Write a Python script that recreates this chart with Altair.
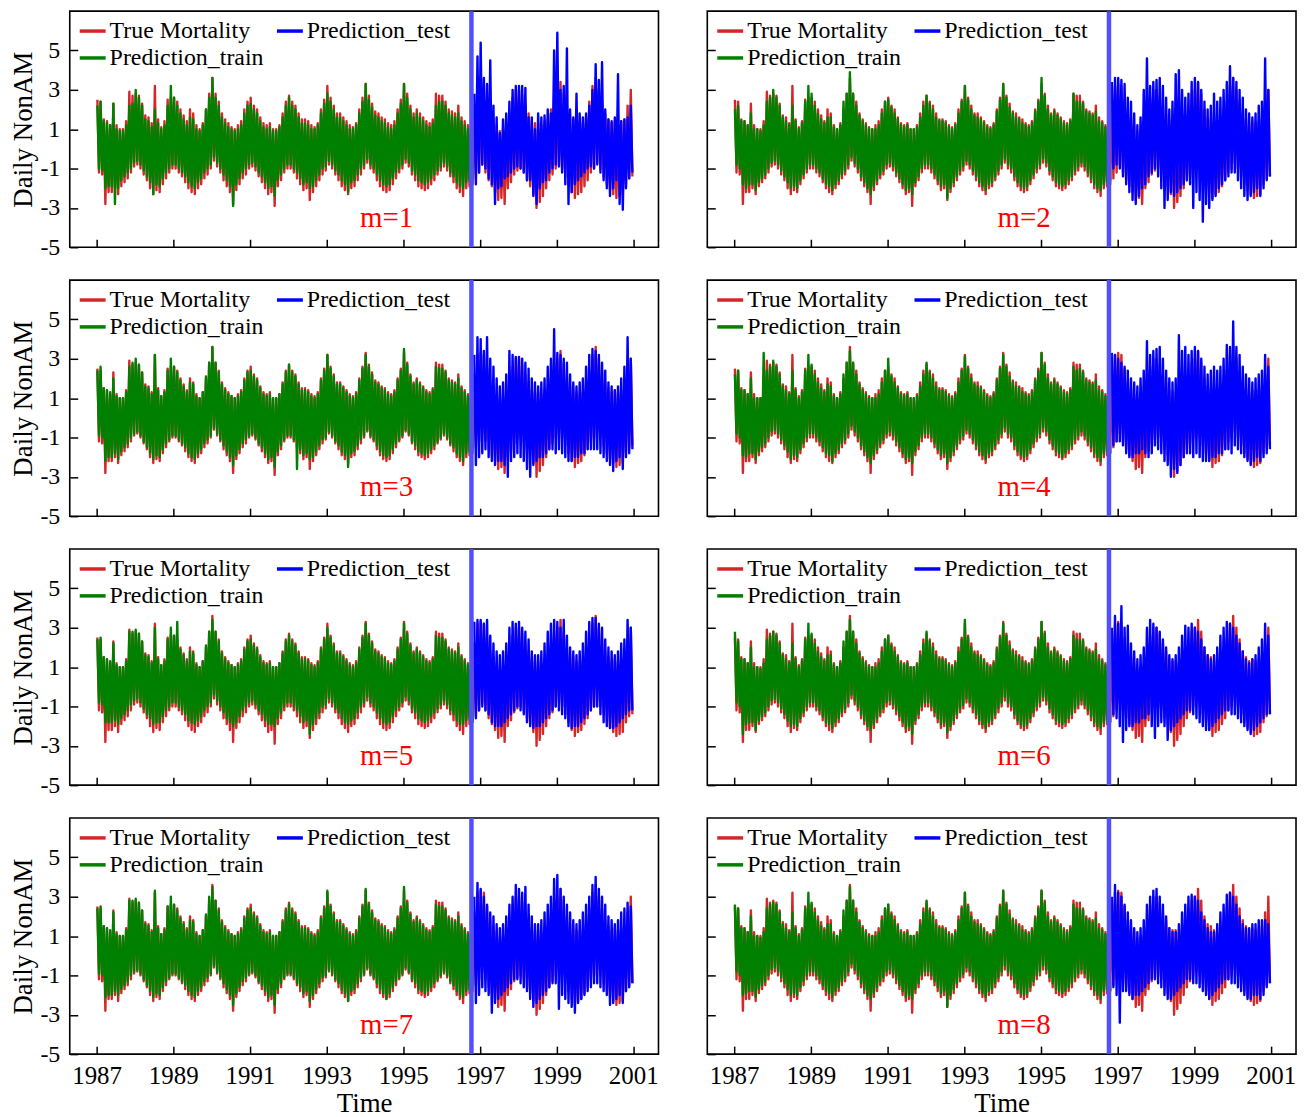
import altair as alt
import pandas as pd

FONT = "Liberation Serif"
START_YEAR = 1987
X_DOMAIN = [1986.3, 2001.66]
Y_DOMAIN = [-5, 7]
X_TICKS = [1987, 1989, 1991, 1993, 1995, 1997, 1999, 2001]
Y_TICKS = [-5, -3, -1, 1, 3, 5]
SPLIT_T = [1996.78]
N_TRAIN = 118
PANEL_LABELS = ["m=1", "m=2", "m=3", "m=4", "m=5", "m=6", "m=7", "m=8"]
LEGEND_LABELS = ["True Mortality", "Prediction_test", "Prediction_train"]
C_TRUE, C_TRAIN, C_TEST, C_SPLIT = "#d62728", "#008000", "#0000ff", "#5050ff"

# ---- True mortality: monthly high / low, Jan 1987 .. Dec 2000 ----
TRUE_HI = [
    2.5, 2.4, 1.5, 1.4, 1.2, 2.3, 1.2, 1.0, 1.0, 1.4, 2.9, 2.7,
    2.8, 2.7, 2.3, 1.7, 1.6, 1.3, 3.2, 1.5, 1.1, 1.4, 2.5, 2.6,
    2.6, 2.4, 2.0, 1.7, 1.4, 2.0, 1.8, 1.2, 1.0, 1.3, 2.0, 2.8,
    3.6, 2.8, 2.4, 1.8, 1.5, 1.3, 1.1, 1.0, 1.2, 1.4, 2.0, 2.4,
    2.6, 2.2, 2.0, 1.6, 1.3, 1.2, 1.3, 1.0, 1.0, 1.2, 1.8, 2.4,
    2.7, 2.4, 2.2, 1.8, 1.5, 1.5, 1.4, 1.2, 1.1, 1.3, 2.0, 2.5,
    3.2, 2.6, 2.2, 1.8, 1.8, 1.6, 1.4, 1.2, 1.1, 1.3, 2.0, 2.6,
    3.3, 2.7, 2.3, 1.9, 1.8, 1.6, 1.5, 1.3, 1.2, 1.4, 2.0, 2.5,
    3.3, 2.8, 2.2, 1.8, 2.0, 1.8, 1.6, 1.4, 1.3, 1.5, 2.8, 2.7,
    2.7, 2.4, 2.0, 1.9, 1.8, 2.2, 1.6, 1.4, 1.2, 1.3, 2.2, 3.2,
    3.3, 3.2, 2.5, 1.8, 1.5, 1.2, 0.9, 1.0, 1.0, 1.4, 2.6, 3.0,
    3.0, 2.7, 2.2, 1.8, 1.4, 1.3, 1.3, 1.2, 1.4, 1.5, 2.0, 2.8,
    3.0, 3.4, 2.8, 2.0, 1.6, 1.5, 1.3, 1.2, 1.3, 1.6, 2.4, 3.2,
    3.6, 3.0, 2.4, 1.8, 1.5, 1.3, 1.4, 1.3, 1.4, 1.5, 2.2, 3.0,
]
TRUE_LO = [
    -1.2, -1.3, -2.8, -2.2, -2.2, -2.0, -2.3, -1.9, -1.7, -1.5, -1.2, -0.9,
    -0.8, -1.0, -1.3, -1.6, -2.0, -2.3, -2.1, -2.2, -1.8, -1.5, -1.2, -1.0,
    -1.0, -1.2, -1.4, -1.7, -2.0, -2.2, -2.3, -2.0, -1.8, -1.5, -1.3, -1.0,
    -0.6, -0.9, -1.2, -1.6, -1.9, -2.2, -2.8, -2.1, -1.8, -1.5, -1.3, -1.0,
    -0.9, -1.1, -1.4, -1.7, -2.0, -2.3, -2.2, -2.9, -1.9, -1.6, -1.2, -1.0,
    -1.0, -1.2, -1.5, -1.8, -2.1, -2.0, -2.6, -2.2, -1.9, -1.6, -1.3, -1.1,
    -0.8, -1.0, -1.3, -1.6, -1.9, -2.1, -2.3, -2.0, -1.9, -1.6, -1.3, -1.0,
    -0.7, -1.0, -1.2, -1.6, -1.9, -2.1, -2.2, -2.1, -1.8, -1.5, -1.2, -1.0,
    -0.7, -0.9, -1.3, -1.6, -1.9, -2.0, -2.1, -2.0, -1.8, -1.6, -1.3, -1.1,
    -0.9, -1.1, -1.4, -1.7, -2.0, -2.2, -2.4, -2.0, -1.9, -1.8, -1.5, -1.2,
    -0.8, -1.2, -1.6, -1.9, -2.2, -2.6, -2.5, -2.8, -2.0, -1.7, -1.3, -1.1,
    -1.0, -1.2, -1.6, -1.9, -2.3, -3.0, -2.7, -2.4, -2.0, -1.6, -1.3, -1.0,
    -0.8, -1.0, -1.4, -1.8, -2.2, -2.5, -2.3, -2.2, -1.9, -1.6, -1.2, -1.0,
    -0.7, -1.0, -1.4, -1.8, -2.1, -2.3, -2.5, -2.4, -2.3, -1.8, -1.5, -1.4,
]

# ---- Prediction_train: monthly high / low, Jan 1987 .. Oct 1996 ----
TRAIN_HI_1 = [
    2.2, 2.4, 1.4, 1.3, 1.2, 2.3, 1.0, 0.9, 0.9, 1.2, 2.2, 2.3,
    3.0, 2.6, 2.2, 1.5, 1.4, 1.1, 2.0, 1.3, 1.0, 1.2, 2.2, 3.2,
    2.6, 2.2, 1.8, 1.5, 1.2, 1.6, 1.5, 1.0, 0.9, 1.2, 2.0, 2.6,
    3.6, 2.6, 2.2, 1.6, 1.3, 1.1, 1.0, 0.9, 1.0, 1.2, 1.8, 2.2,
    2.3, 2.0, 1.8, 1.4, 1.1, 1.0, 1.1, 0.9, 0.9, 1.1, 1.6, 2.2,
    2.6, 2.2, 2.0, 1.6, 1.3, 1.3, 1.2, 1.0, 1.0, 1.2, 1.8, 2.3,
    2.8, 2.4, 2.0, 1.6, 1.6, 1.4, 1.2, 1.0, 1.0, 1.2, 1.8, 2.4,
    3.3, 2.5, 2.1, 1.7, 1.6, 1.4, 1.3, 1.1, 1.0, 1.2, 1.8, 2.3,
    3.3, 2.6, 2.0, 1.6, 1.8, 1.6, 1.4, 1.2, 1.1, 1.3, 2.2, 2.4,
    2.4, 2.2, 1.8, 1.7, 1.6, 1.8, 1.4, 1.2, 1.0, 1.1,
]
TRAIN_LO_1 = [
    -1.0, -1.1, -2.0, -1.9, -1.9, -2.8, -2.0, -1.6, -1.4, -1.2, -1.0, -0.7,
    -0.6, -0.8, -1.1, -1.4, -1.7, -2.3, -1.8, -1.9, -1.5, -1.2, -1.0, -0.8,
    -0.8, -1.0, -1.2, -1.4, -1.7, -1.9, -2.0, -1.7, -1.5, -1.2, -1.0, -0.8,
    -0.4, -0.7, -1.0, -1.3, -1.6, -1.9, -2.9, -1.8, -1.5, -1.2, -1.0, -0.8,
    -0.7, -0.9, -1.2, -1.4, -1.7, -2.0, -1.9, -2.4, -1.6, -1.3, -1.0, -0.8,
    -0.8, -1.0, -1.2, -1.5, -1.8, -1.7, -2.0, -1.9, -1.6, -1.3, -1.0, -0.9,
    -0.6, -0.8, -1.1, -1.3, -1.6, -1.8, -2.2, -1.7, -1.6, -1.3, -1.0, -0.8,
    -0.5, -0.8, -1.0, -1.3, -1.6, -1.8, -1.9, -1.8, -1.5, -1.2, -1.0, -0.8,
    -0.5, -0.7, -1.1, -1.3, -1.6, -1.7, -1.8, -1.7, -1.5, -1.3, -1.1, -0.9,
    -0.7, -0.9, -1.2, -1.4, -1.7, -1.9, -2.0, -1.7, -1.6, -1.5,
]
TRAIN_HI_2 = [
    2.0, 2.2, 1.4, 1.4, 1.2, 1.8, 1.0, 1.0, 0.9, 1.2, 2.4, 2.6,
    3.0, 2.6, 2.2, 1.6, 1.4, 1.2, 2.2, 1.4, 1.0, 1.3, 2.4, 3.2,
    2.8, 2.2, 1.8, 1.5, 1.3, 1.6, 1.6, 1.1, 1.0, 1.2, 2.4, 2.8,
    3.9, 2.8, 2.2, 1.7, 1.4, 1.2, 1.0, 1.0, 1.0, 1.2, 1.8, 2.4,
    2.5, 2.1, 1.8, 1.5, 1.2, 1.1, 1.2, 1.0, 1.0, 1.1, 1.6, 2.2,
    2.7, 2.3, 2.0, 1.6, 1.4, 1.4, 1.3, 1.1, 1.0, 1.2, 1.8, 2.4,
    3.2, 2.5, 2.0, 1.7, 1.6, 1.5, 1.3, 1.1, 1.0, 1.2, 1.9, 2.5,
    3.3, 2.6, 2.1, 1.8, 1.6, 1.5, 1.3, 1.2, 1.1, 1.3, 1.9, 2.4,
    3.6, 2.7, 2.0, 1.7, 1.9, 1.7, 1.5, 1.3, 1.2, 1.4, 2.8, 2.4,
    2.4, 2.3, 1.9, 1.8, 1.7, 1.9, 1.4, 1.3, 1.1, 1.2,
]
TRAIN_LO_2 = [
    -0.8, -1.0, -1.8, -2.0, -1.8, -1.8, -2.1, -1.7, -1.5, -1.3, -1.0, -0.7,
    -0.6, -0.8, -1.1, -1.4, -1.7, -2.0, -1.9, -2.0, -1.6, -1.3, -1.0, -0.8,
    -0.8, -1.0, -1.2, -1.5, -1.8, -1.9, -2.1, -1.8, -1.6, -1.3, -1.1, -0.8,
    -0.4, -0.7, -1.0, -1.4, -1.7, -2.0, -2.3, -1.9, -1.6, -1.3, -1.1, -0.8,
    -0.7, -0.9, -1.2, -1.5, -1.8, -2.1, -2.0, -2.3, -1.7, -1.4, -1.0, -0.8,
    -0.8, -1.0, -1.3, -1.6, -1.9, -1.8, -2.5, -2.0, -1.7, -1.4, -1.1, -0.9,
    -0.6, -0.8, -1.1, -1.4, -1.7, -1.9, -2.1, -1.8, -1.7, -1.4, -1.1, -0.8,
    -0.5, -0.8, -1.0, -1.4, -1.7, -1.9, -2.0, -1.9, -1.6, -1.3, -1.0, -0.8,
    -0.5, -0.7, -1.1, -1.4, -1.7, -1.8, -1.9, -1.8, -1.6, -1.4, -1.1, -0.9,
    -0.7, -0.9, -1.2, -1.5, -1.8, -2.0, -2.1, -1.8, -1.7, -1.6,
]
TRAIN_HI_3 = [
    2.4, 2.6, 1.5, 1.4, 1.3, 2.0, 1.1, 1.0, 1.0, 1.3, 2.6, 2.8,
    3.0, 2.7, 2.3, 1.6, 1.5, 1.2, 3.2, 1.4, 1.1, 1.3, 2.4, 3.0,
    2.6, 2.3, 1.9, 1.6, 1.3, 1.8, 1.7, 1.1, 1.0, 1.3, 2.1, 2.8,
    3.6, 2.8, 2.3, 1.7, 1.4, 1.2, 1.1, 1.0, 1.1, 1.3, 1.9, 2.3,
    2.4, 2.1, 1.9, 1.5, 1.2, 1.1, 1.2, 1.0, 1.0, 1.2, 1.7, 2.3,
    2.7, 2.3, 2.1, 1.7, 1.4, 1.4, 1.3, 1.1, 1.0, 1.2, 1.9, 2.4,
    3.2, 2.5, 2.1, 1.7, 1.7, 1.5, 1.3, 1.1, 1.0, 1.2, 1.9, 2.5,
    3.2, 2.6, 2.2, 1.8, 1.7, 1.5, 1.4, 1.2, 1.1, 1.3, 1.9, 2.4,
    3.5, 2.7, 2.1, 1.7, 1.9, 1.7, 1.5, 1.3, 1.2, 1.4, 2.6, 2.5,
    2.5, 2.3, 1.9, 1.8, 1.7, 2.0, 1.5, 1.3, 1.1, 1.2,
]
TRAIN_LO_3 = [
    -0.9, -1.0, -2.2, -2.0, -2.0, -1.8, -2.1, -1.7, -1.5, -1.3, -1.0, -0.8,
    -0.7, -0.9, -1.2, -1.5, -1.8, -2.1, -1.9, -2.0, -1.6, -1.3, -1.1, -0.9,
    -0.9, -1.1, -1.3, -1.5, -1.8, -2.0, -2.1, -1.8, -1.6, -1.3, -1.1, -0.9,
    -0.5, -0.8, -1.1, -1.4, -1.7, -2.0, -2.4, -1.9, -1.6, -1.3, -1.1, -0.9,
    -0.8, -1.0, -1.3, -1.5, -1.8, -2.1, -2.0, -2.5, -1.7, -1.4, -1.1, -0.9,
    -0.9, -1.1, -2.6, -1.6, -1.9, -1.8, -2.1, -2.0, -1.7, -1.4, -1.1, -1.0,
    -0.7, -0.9, -1.2, -1.4, -1.7, -1.9, -2.5, -1.8, -1.7, -1.4, -1.1, -0.9,
    -0.6, -0.9, -1.1, -1.4, -1.7, -1.9, -2.0, -1.9, -1.6, -1.3, -1.1, -0.9,
    -0.6, -0.8, -1.2, -1.4, -1.7, -1.8, -1.9, -1.8, -1.6, -1.4, -1.2, -1.0,
    -0.8, -1.0, -1.3, -1.5, -1.8, -2.0, -2.2, -1.8, -1.7, -1.6,
]
TRAIN_HI_4 = [
    2.2, 2.4, 1.4, 1.4, 1.2, 2.0, 1.0, 1.0, 1.0, 3.3, 2.4, 2.6,
    2.9, 2.6, 2.2, 1.6, 1.4, 1.2, 2.4, 1.4, 1.0, 1.3, 2.4, 3.2,
    2.7, 2.2, 1.8, 1.5, 1.3, 1.7, 1.6, 1.1, 1.0, 1.2, 2.2, 2.8,
    3.4, 2.8, 2.2, 1.7, 1.4, 1.2, 1.0, 1.0, 1.0, 1.2, 1.8, 2.4,
    3.0, 2.1, 1.8, 1.5, 1.2, 1.1, 1.2, 1.0, 1.0, 1.1, 1.6, 2.2,
    2.8, 2.3, 2.0, 1.6, 1.4, 1.4, 1.3, 1.1, 1.0, 1.2, 1.8, 2.4,
    3.1, 2.5, 2.0, 1.7, 1.6, 1.5, 1.3, 1.1, 1.0, 1.2, 1.9, 2.5,
    3.2, 2.6, 2.1, 1.8, 1.6, 1.5, 1.3, 1.2, 1.1, 1.3, 1.9, 2.4,
    3.3, 2.7, 2.0, 1.7, 1.9, 1.7, 1.5, 1.3, 1.2, 1.4, 2.6, 2.4,
    2.5, 2.3, 1.9, 1.8, 1.7, 1.9, 1.4, 1.3, 1.1, 1.2,
]
TRAIN_LO_4 = [
    -0.8, -1.0, -1.9, -2.0, -1.8, -1.8, -2.1, -1.7, -1.5, -1.3, -1.0, -0.7,
    -0.6, -0.8, -1.1, -1.4, -1.7, -2.1, -1.9, -2.0, -1.6, -1.3, -1.0, -0.8,
    -0.8, -1.0, -1.2, -1.5, -1.8, -1.9, -2.2, -1.8, -1.6, -1.3, -1.1, -0.8,
    -0.4, -0.7, -1.0, -1.4, -1.7, -2.0, -2.3, -1.9, -1.6, -1.3, -1.1, -0.8,
    -0.7, -0.9, -1.2, -1.5, -1.8, -2.1, -2.0, -2.3, -1.7, -1.4, -1.0, -0.8,
    -0.8, -1.0, -1.3, -1.6, -1.9, -1.8, -2.3, -2.0, -1.7, -1.4, -1.1, -0.9,
    -0.6, -0.8, -1.1, -1.4, -1.7, -1.9, -2.1, -1.8, -1.7, -1.4, -1.1, -0.8,
    -0.5, -0.8, -1.0, -1.4, -1.7, -1.9, -2.0, -1.9, -1.6, -1.3, -1.0, -0.8,
    -0.5, -0.7, -1.1, -1.4, -1.7, -1.8, -2.0, -1.8, -1.6, -1.4, -1.1, -0.9,
    -0.7, -0.9, -1.2, -1.5, -1.8, -2.0, -2.2, -1.8, -1.7, -1.8,
]
TRAIN_HI_5 = [
    2.4, 2.5, 1.5, 1.4, 1.3, 2.2, 1.1, 1.0, 1.0, 1.3, 2.8, 2.8,
    2.9, 2.7, 2.3, 1.6, 1.5, 1.2, 3.0, 1.4, 1.1, 1.3, 2.4, 3.0,
    2.6, 3.3, 1.9, 1.6, 1.3, 1.8, 1.7, 1.1, 1.0, 1.3, 2.1, 2.8,
    3.4, 2.8, 2.3, 1.7, 1.4, 1.2, 1.1, 1.0, 1.1, 1.3, 1.9, 2.3,
    2.4, 2.1, 1.9, 1.5, 1.2, 1.1, 1.2, 1.0, 1.0, 1.2, 1.7, 2.3,
    2.6, 2.3, 2.1, 1.7, 1.4, 1.4, 1.3, 1.1, 1.0, 1.2, 1.9, 2.4,
    3.0, 2.5, 2.1, 1.7, 1.7, 1.5, 1.3, 1.1, 1.0, 1.2, 1.9, 2.5,
    3.2, 2.6, 2.2, 1.8, 1.7, 1.5, 1.4, 1.2, 1.1, 1.3, 1.9, 2.4,
    3.2, 2.7, 2.1, 1.7, 1.9, 1.7, 1.5, 1.3, 1.2, 1.4, 2.6, 2.5,
    2.5, 2.3, 1.9, 1.8, 1.7, 2.0, 1.5, 1.3, 1.1, 1.2,
]
TRAIN_LO_5 = [
    -0.8, -0.9, -1.8, -1.8, -1.8, -1.7, -1.9, -1.6, -1.4, -1.2, -0.9, -0.7,
    -0.6, -0.8, -1.1, -1.4, -1.6, -1.9, -1.8, -1.8, -1.5, -1.2, -1.0, -0.8,
    -0.8, -1.0, -1.2, -1.4, -1.7, -1.8, -1.9, -1.7, -1.5, -1.2, -1.0, -0.8,
    -0.4, -0.7, -1.0, -1.3, -1.6, -1.8, -2.0, -1.8, -1.5, -1.2, -1.0, -0.8,
    -0.7, -0.9, -1.2, -1.4, -1.7, -1.9, -1.9, -2.0, -1.6, -1.3, -1.0, -0.8,
    -0.8, -1.0, -1.2, -1.5, -1.8, -1.7, -2.4, -1.9, -1.6, -1.3, -1.0, -0.9,
    -0.6, -0.8, -1.1, -1.3, -1.6, -1.8, -1.9, -1.7, -1.6, -1.3, -1.0, -0.8,
    -0.5, -0.8, -1.0, -1.3, -1.6, -1.8, -1.9, -1.8, -1.5, -1.2, -1.0, -0.8,
    -0.5, -0.7, -1.1, -1.3, -1.6, -1.7, -1.8, -1.7, -1.5, -1.3, -1.1, -0.9,
    -0.7, -0.9, -1.2, -1.4, -1.7, -1.9, -1.9, -1.7, -1.6, -1.8,
]
TRAIN_HI_6 = [
    2.8, 2.3, 1.4, 1.4, 1.2, 2.0, 1.0, 1.0, 0.9, 1.2, 2.4, 2.6,
    2.8, 2.6, 2.2, 1.6, 1.4, 1.2, 2.2, 1.4, 1.0, 1.3, 2.4, 3.2,
    2.7, 2.2, 1.8, 1.5, 1.3, 1.6, 1.6, 1.1, 1.0, 1.2, 2.3, 2.8,
    3.4, 2.8, 2.2, 1.7, 1.4, 1.2, 1.0, 1.0, 1.0, 1.2, 1.8, 2.4,
    2.6, 2.1, 1.8, 1.5, 1.2, 1.1, 1.2, 1.0, 1.0, 1.1, 1.6, 2.2,
    2.8, 2.3, 2.0, 1.6, 1.4, 1.4, 1.3, 1.1, 1.0, 1.2, 1.8, 2.4,
    3.4, 2.5, 2.0, 1.7, 1.6, 1.5, 1.3, 1.1, 1.0, 1.2, 1.9, 2.5,
    3.2, 2.6, 2.1, 1.8, 1.6, 1.5, 1.3, 1.2, 1.1, 1.3, 1.9, 2.4,
    3.3, 2.7, 2.0, 1.7, 1.9, 1.7, 1.5, 1.3, 1.2, 1.4, 2.6, 2.4,
    2.4, 2.3, 1.9, 1.8, 1.7, 1.9, 1.4, 1.3, 1.1, 1.2,
]
TRAIN_LO_6 = [
    -0.8, -1.0, -2.4, -1.9, -1.8, -1.8, -2.2, -1.7, -1.5, -1.3, -1.0, -0.7,
    -0.6, -0.8, -1.1, -1.4, -1.7, -2.0, -1.9, -2.0, -1.6, -1.3, -1.0, -0.8,
    -0.8, -1.0, -1.2, -1.5, -1.8, -1.9, -2.1, -1.8, -1.6, -1.3, -1.1, -0.8,
    -0.4, -0.7, -1.0, -1.4, -1.7, -2.0, -2.2, -1.9, -1.6, -1.3, -1.1, -0.8,
    -0.7, -0.9, -1.2, -1.5, -1.8, -2.1, -2.0, -2.4, -1.7, -1.4, -1.0, -0.8,
    -0.8, -1.0, -1.3, -1.6, -1.9, -1.8, -2.3, -2.0, -1.7, -1.4, -1.1, -0.9,
    -0.6, -0.8, -1.1, -1.4, -1.7, -1.9, -2.1, -1.8, -1.7, -1.4, -1.1, -0.8,
    -0.5, -0.8, -1.0, -1.4, -1.7, -1.9, -2.0, -1.9, -1.6, -1.3, -1.0, -0.8,
    -0.5, -0.7, -1.1, -1.4, -1.7, -1.8, -1.9, -1.8, -1.6, -1.4, -1.1, -0.9,
    -0.7, -0.9, -1.2, -1.5, -1.8, -2.0, -2.1, -1.8, -1.7, -1.8,
]
TRAIN_HI_7 = [
    2.4, 2.5, 1.5, 1.4, 1.3, 2.2, 1.1, 1.0, 1.0, 1.3, 2.8, 2.8,
    2.9, 2.7, 2.3, 1.6, 1.5, 1.2, 3.3, 1.4, 1.1, 1.3, 2.5, 3.0,
    2.6, 2.3, 1.9, 1.6, 1.3, 1.8, 1.7, 1.1, 1.0, 1.3, 2.1, 3.0,
    3.5, 2.8, 2.3, 1.7, 1.4, 1.2, 1.1, 1.0, 1.1, 1.3, 1.9, 2.3,
    2.4, 2.1, 1.9, 1.5, 1.2, 1.1, 1.2, 1.0, 1.0, 1.2, 1.7, 2.3,
    2.6, 2.3, 2.1, 1.7, 1.4, 1.4, 1.3, 1.1, 1.0, 1.2, 1.9, 2.4,
    3.3, 2.5, 2.1, 1.7, 1.7, 1.5, 1.3, 1.1, 1.0, 1.2, 1.9, 2.5,
    3.4, 2.6, 2.2, 1.8, 1.7, 1.5, 1.4, 1.2, 1.1, 1.3, 1.9, 2.4,
    3.5, 2.7, 2.1, 1.7, 1.9, 1.7, 1.5, 1.3, 1.2, 1.4, 2.6, 2.5,
    2.5, 2.3, 1.9, 1.8, 1.7, 2.0, 1.5, 1.3, 1.1, 1.2,
]
TRAIN_LO_7 = [
    -0.9, -1.0, -2.1, -2.0, -2.0, -1.8, -2.0, -1.7, -1.5, -1.3, -1.0, -0.8,
    -0.7, -0.9, -1.2, -1.5, -1.8, -2.1, -1.9, -2.0, -1.6, -1.3, -1.1, -0.9,
    -0.9, -1.1, -1.3, -1.5, -1.8, -2.0, -2.1, -1.8, -1.6, -1.3, -1.1, -0.9,
    -0.5, -0.8, -1.1, -1.4, -1.7, -2.0, -2.5, -1.9, -1.6, -1.3, -1.1, -0.9,
    -0.8, -1.0, -1.3, -1.5, -1.8, -2.1, -2.0, -2.5, -1.7, -1.4, -1.1, -0.9,
    -0.9, -1.1, -1.4, -1.6, -1.9, -1.8, -2.3, -2.0, -1.7, -1.4, -1.1, -1.0,
    -0.7, -0.9, -1.2, -1.4, -1.7, -1.9, -2.3, -1.8, -1.7, -1.4, -1.1, -0.9,
    -0.6, -0.9, -1.1, -1.4, -1.7, -1.9, -2.2, -1.9, -1.6, -1.3, -1.1, -0.9,
    -0.6, -0.8, -1.2, -1.4, -1.7, -1.8, -1.9, -1.8, -1.6, -1.4, -1.2, -1.0,
    -0.8, -1.0, -1.3, -1.5, -1.8, -2.0, -2.1, -1.8, -1.7, -1.6,
]
TRAIN_HI_8 = [
    2.6, 2.4, 1.4, 1.4, 1.2, 2.0, 1.0, 1.0, 0.9, 1.2, 2.4, 2.6,
    2.7, 2.6, 2.2, 1.6, 1.4, 1.2, 2.2, 1.4, 1.0, 1.3, 2.4, 3.2,
    2.7, 2.2, 1.8, 1.5, 1.3, 1.6, 1.6, 1.1, 1.0, 1.2, 2.3, 2.8,
    3.5, 2.8, 2.2, 1.7, 1.4, 1.2, 1.0, 1.0, 1.0, 1.2, 1.8, 2.4,
    2.6, 2.1, 1.8, 1.5, 1.2, 1.1, 1.2, 1.0, 1.0, 1.1, 1.6, 2.2,
    2.8, 2.3, 2.0, 1.6, 1.4, 1.4, 1.3, 1.1, 1.0, 1.2, 1.8, 2.4,
    3.2, 2.5, 2.0, 1.7, 1.6, 1.5, 1.3, 1.1, 1.0, 1.2, 1.9, 2.5,
    3.3, 2.6, 2.1, 1.8, 1.6, 1.5, 1.3, 1.2, 1.1, 1.3, 1.9, 2.4,
    3.3, 2.7, 2.0, 1.7, 1.9, 1.7, 1.5, 1.3, 1.2, 1.4, 2.6, 2.4,
    2.4, 2.3, 1.9, 1.8, 1.7, 1.9, 1.4, 1.3, 1.1, 1.2,
]
TRAIN_LO_8 = [
    -0.8, -1.0, -2.0, -1.9, -1.8, -1.8, -2.1, -1.7, -1.5, -1.3, -1.0, -0.7,
    -0.6, -0.8, -1.1, -1.4, -1.7, -2.0, -1.9, -2.0, -1.6, -1.3, -1.0, -0.8,
    -0.8, -1.0, -1.2, -1.5, -1.8, -1.9, -2.1, -1.8, -1.6, -1.3, -1.1, -0.8,
    -0.4, -0.7, -1.0, -1.4, -1.7, -2.0, -2.2, -1.9, -1.6, -1.3, -1.1, -0.8,
    -0.7, -0.9, -1.2, -1.5, -1.8, -2.1, -2.0, -2.2, -1.7, -1.4, -1.0, -0.8,
    -0.8, -1.0, -1.3, -1.6, -1.9, -1.8, -2.6, -2.0, -1.7, -1.4, -1.1, -0.9,
    -0.6, -0.8, -1.1, -1.4, -1.7, -1.9, -2.1, -1.8, -1.7, -1.4, -1.1, -0.8,
    -0.5, -0.8, -1.0, -1.4, -1.7, -1.9, -2.0, -1.9, -1.6, -1.3, -1.0, -0.8,
    -0.5, -0.7, -1.1, -1.4, -1.7, -1.8, -1.9, -1.8, -1.6, -1.4, -1.1, -0.9,
    -0.7, -0.9, -1.2, -1.5, -1.8, -2.0, -2.2, -1.8, -1.7, -1.8,
]

# ---- Prediction_test: monthly high / low, Nov 1996 .. Dec 2000 ----
TEST_HI_1 = [2.8, 4.7,
    5.4, 3.6, 3.3, 4.5, 2.2, 1.6, 0.8, 1.5, 1.8, 2.4, 3.0, 3.2,
    3.2, 3.2, 3.1, 1.6, 1.6, 1.0, 1.8, 1.6, 1.7, 2.0, 1.8, 5.0,
    5.9, 3.0, 3.2, 5.1, 2.0, 1.6, 2.8, 1.8, 1.6, 1.8, 2.2, 3.0,
    4.3, 3.5, 4.4, 2.0, 1.5, 1.4, 1.6, 3.8, 1.4, 1.5, 1.6, 2.2]
TEST_LO_1 = [-1.8, -1.2,
    -0.8, -1.0, -1.5, -1.8, -2.8, -2.0, -1.9, -1.5, -1.4, -1.2, -1.0, -0.9,
    -1.0, -1.2, -1.6, -1.6, -2.4, -2.8, -2.0, -1.7, -1.6, -1.2, -1.0, -0.8,
    -0.9, -1.2, -1.8, -2.8, -2.2, -1.8, -1.6, -1.4, -1.2, -1.0, -0.9, -1.0,
    -0.8, -1.2, -1.6, -2.0, -2.4, -2.0, -1.6, -2.8, -3.1, -2.0, -1.5, -1.2]
TEST_HI_2 = [3.4, 3.6,
    3.6, 3.5, 3.3, 2.6, 2.4, 1.8, 1.2, 1.6, 3.0, 4.6, 3.2, 3.4,
    3.5, 3.6, 3.2, 2.6, 2.0, 2.4, 3.8, 4.0, 3.0, 2.6, 2.8, 3.4,
    3.6, 3.4, 3.0, 2.4, 2.0, 2.2, 2.8, 2.4, 2.6, 3.0, 3.4, 4.2,
    3.6, 3.4, 3.0, 2.6, 2.0, 1.8, 1.6, 1.8, 2.2, 2.4, 4.6, 3.0]
TEST_LO_2 = [-1.0, -0.8,
    -1.0, -1.4, -1.8, -2.2, -2.6, -2.8, -2.4, -2.0, -1.8, -1.4, -1.2, -1.0,
    -1.4, -2.0, -3.0, -2.6, -2.2, -2.4, -2.2, -2.0, -1.8, -1.6, -1.8, -3.0,
    -2.2, -2.6, -3.7, -2.8, -3.0, -2.6, -2.4, -2.0, -1.8, -1.6, -1.4, -1.2,
    -1.2, -1.6, -2.0, -2.4, -2.6, -2.4, -2.2, -2.0, -2.4, -2.0, -1.6, -1.4]
TEST_HI_3 = [3.2, 4.1,
    4.0, 3.4, 4.1, 3.0, 2.6, 2.0, 1.6, 1.8, 2.2, 3.4, 3.2, 3.1,
    3.1, 3.0, 2.8, 2.5, 2.0, 1.8, 1.6, 1.8, 2.0, 2.6, 3.0, 4.5,
    3.3, 3.2, 3.0, 2.8, 2.2, 1.8, 1.6, 1.8, 2.0, 2.6, 3.2, 3.5,
    3.4, 3.2, 2.8, 2.4, 1.8, 1.6, 1.4, 1.6, 2.0, 2.6, 4.1, 3.0]
TEST_LO_3 = [-2.4, -2.0,
    -1.8, -1.6, -2.0, -2.2, -2.4, -2.2, -2.2, -2.4, -3.0, -2.2, -2.0, -1.8,
    -2.0, -2.2, -2.6, -3.0, -2.4, -2.2, -2.0, -2.0, -1.8, -1.6, -1.6, -1.8,
    -1.6, -1.8, -2.0, -2.2, -2.2, -2.0, -2.0, -1.8, -1.8, -1.6, -1.6, -1.6,
    -1.6, -1.8, -2.0, -2.2, -2.4, -2.7, -2.2, -2.0, -2.6, -2.0, -1.8, -1.6]
TEST_HI_4 = [3.3, 3.2,
    3.0, 2.8, 2.6, 2.4, 2.0, 1.8, 1.6, 2.0, 2.4, 3.9, 3.2, 3.4,
    3.5, 3.6, 3.0, 2.4, 2.0, 1.8, 2.0, 4.2, 3.4, 3.6, 3.2, 3.4,
    3.6, 3.4, 3.0, 2.6, 2.2, 2.4, 2.6, 2.4, 2.6, 3.0, 3.7, 3.6,
    4.9, 3.6, 3.2, 2.6, 2.2, 2.0, 1.8, 2.0, 2.2, 2.4, 3.2, 2.6]
TEST_LO_4 = [-1.4, -1.2,
    -1.2, -1.4, -1.8, -2.0, -2.0, -1.8, -1.8, -1.6, -1.8, -2.0, -1.8, -1.4,
    -1.6, -1.8, -2.2, -2.4, -3.0, -2.6, -2.8, -2.4, -2.0, -1.8, -1.8, -2.0,
    -1.8, -2.0, -2.2, -2.2, -2.2, -2.0, -2.0, -1.8, -1.8, -1.6, -1.6, -1.8,
    -1.4, -1.6, -1.8, -2.0, -2.2, -2.4, -2.2, -2.0, -2.2, -2.0, -1.8, -1.6]
TEST_HI_5 = [3.3, 3.4,
    3.4, 3.2, 3.4, 2.6, 2.2, 1.8, 1.6, 1.8, 2.2, 3.0, 3.3, 3.2,
    3.3, 3.0, 2.8, 2.4, 1.8, 1.6, 1.6, 1.8, 2.2, 2.8, 3.2, 3.4,
    3.3, 3.0, 3.4, 2.6, 2.0, 1.8, 1.6, 1.8, 2.2, 2.8, 3.3, 3.5,
    3.5, 3.2, 3.0, 2.4, 2.0, 1.8, 1.6, 1.8, 2.2, 2.4, 3.4, 3.0]
TEST_LO_5 = [-1.6, -1.2,
    -1.0, -1.2, -1.4, -1.8, -2.0, -2.0, -2.0, -1.8, -1.6, -1.4, -1.2, -1.0,
    -1.2, -1.4, -1.8, -2.0, -2.1, -2.0, -2.0, -1.8, -1.6, -1.4, -1.2, -1.0,
    -1.2, -1.4, -1.6, -2.0, -2.1, -2.0, -2.0, -1.8, -1.6, -1.4, -1.2, -1.0,
    -1.0, -1.4, -1.8, -2.0, -2.1, -2.1, -2.0, -1.8, -1.6, -1.4, -1.2, -1.2]
TEST_HI_6 = [3.0, 3.6,
    3.2, 4.1, 3.0, 3.1, 2.2, 1.8, 1.4, 1.6, 2.0, 3.0, 3.4, 3.2,
    3.0, 2.8, 2.4, 2.0, 1.6, 1.4, 1.6, 2.0, 2.6, 3.1, 3.0, 3.2,
    3.0, 2.8, 2.4, 2.0, 1.6, 1.4, 1.6, 2.0, 2.6, 3.0, 3.3, 3.2,
    3.0, 2.6, 2.2, 1.8, 1.4, 1.2, 1.4, 1.6, 2.0, 2.4, 3.2, 2.6]
TEST_LO_6 = [-1.4, -1.6,
    -2.0, -2.8, -2.2, -2.0, -2.0, -1.8, -1.8, -1.6, -1.6, -1.4, -2.0, -2.6,
    -2.0, -1.8, -2.0, -2.7, -2.2, -2.0, -1.8, -1.6, -1.4, -1.2, -1.2, -1.4,
    -1.6, -1.8, -2.0, -2.2, -2.2, -2.0, -1.8, -1.6, -1.4, -1.2, -1.2, -1.4,
    -1.4, -1.6, -1.8, -2.0, -2.2, -2.4, -2.2, -2.0, -1.8, -1.6, -1.4, -1.4]
TEST_HI_7 = [3.0, 3.7,
    3.4, 3.0, 2.6, 2.2, 2.0, 1.6, 1.4, 1.6, 2.0, 2.6, 3.0, 3.6,
    3.4, 3.2, 3.5, 2.6, 2.0, 1.6, 1.6, 1.8, 2.2, 2.6, 3.0, 3.9,
    4.1, 3.4, 3.0, 2.6, 2.2, 1.8, 1.6, 1.8, 2.2, 2.6, 3.0, 3.6,
    4.0, 3.4, 3.0, 2.6, 2.0, 1.8, 1.6, 1.8, 2.2, 2.4, 2.7, 2.5]
TEST_LO_7 = [-2.4, -2.0,
    -1.6, -1.8, -2.0, -2.9, -2.4, -2.2, -2.0, -1.8, -1.6, -1.4, -1.2, -1.2,
    -1.4, -1.6, -1.8, -2.2, -2.6, -2.4, -2.2, -2.0, -1.8, -1.6, -1.4, -1.4,
    -2.7, -2.0, -2.2, -2.4, -2.6, -2.9, -2.4, -2.2, -2.0, -1.8, -1.6, -1.4,
    -1.4, -1.6, -1.8, -2.0, -2.5, -2.4, -2.2, -2.0, -2.4, -1.8, -1.6, -1.4]
TEST_HI_8 = [3.0, 3.6,
    3.2, 3.0, 2.6, 2.2, 1.8, 1.4, 1.2, 1.4, 1.8, 2.6, 3.0, 3.3,
    3.4, 3.0, 2.6, 2.0, 1.4, 1.2, 1.2, 1.6, 2.2, 2.6, 3.0, 3.1,
    3.0, 2.8, 2.2, 1.8, 1.4, 1.2, 1.2, 1.6, 2.2, 2.6, 3.1, 3.2,
    3.0, 2.6, 2.0, 1.6, 1.4, 1.4, 1.6, 1.6, 1.8, 1.8, 1.8, 1.6]
TEST_LO_8 = [-1.6, -2.0,
    -3.4, -1.8, -1.8, -2.0, -2.2, -2.0, -2.0, -1.8, -1.6, -1.4, -1.2, -1.2,
    -1.4, -1.6, -2.0, -2.2, -2.2, -2.0, -1.8, -1.6, -1.4, -1.2, -1.2, -1.4,
    -1.4, -1.6, -1.8, -2.0, -2.2, -2.0, -1.8, -1.6, -1.4, -1.2, -1.2, -1.4,
    -1.4, -1.6, -1.8, -2.0, -2.2, -2.2, -2.0, -2.0, -2.2, -2.0, -1.6, -1.4]

TRAIN = [(TRAIN_HI_1, TRAIN_LO_1), (TRAIN_HI_2, TRAIN_LO_2), (TRAIN_HI_3, TRAIN_LO_3),
         (TRAIN_HI_4, TRAIN_LO_4), (TRAIN_HI_5, TRAIN_LO_5), (TRAIN_HI_6, TRAIN_LO_6),
         (TRAIN_HI_7, TRAIN_LO_7), (TRAIN_HI_8, TRAIN_LO_8)]
TEST = [(TEST_HI_1, TEST_LO_1), (TEST_HI_2, TEST_LO_2), (TEST_HI_3, TEST_LO_3),
        (TEST_HI_4, TEST_LO_4), (TEST_HI_5, TEST_LO_5), (TEST_HI_6, TEST_LO_6),
        (TEST_HI_7, TEST_LO_7), (TEST_HI_8, TEST_LO_8)]

assert len(TRUE_HI) == 168 and len(TRUE_LO) == 168
for h, l in TRAIN:
    assert len(h) == N_TRAIN and len(l) == N_TRAIN, (len(h), len(l))
for h, l in TEST:
    assert len(h) == 168 - N_TRAIN and len(l) == 168 - N_TRAIN, (len(h), len(l))


def zigzag(hi, lo, start):
    t, v, o = [], [], []
    for i, (h, l) in enumerate(zip(hi, lo)):
        m = start + i
        t += [START_YEAR + (m + 0.25) / 12, START_YEAR + (m + 0.75) / 12]
        v += [h, l]
        o += [2 * m, 2 * m + 1]
    return pd.DataFrame({"t": t, "v": v, "o": o})


TRUE_DF = zigzag(TRUE_HI, TRUE_LO, 0)
W, H = 591, 237
TICK = 8


def make_panel(k, left, bottom):
    xscale = alt.Scale(domain=X_DOMAIN, nice=False, zero=False)
    yscale = alt.Scale(domain=Y_DOMAIN, nice=False, zero=False)
    xaxis = alt.Axis(values=X_TICKS, format="d", labels=bottom, domain=False, grid=False,
                     offset=-TICK, tickSize=TICK, tickWidth=1.5, tickColor="black",
                     labelFont=FONT, labelFontSize=25, labelColor="black", labelPadding=10,
                     labelFlush=False, titleFont=FONT, titleFontSize=27,
                     titleFontWeight="normal", titleColor="black", titlePadding=2)
    yaxis = alt.Axis(values=Y_TICKS, labels=left, domain=False, grid=False,
                     offset=-TICK, tickSize=TICK, tickWidth=1.5, tickColor="black",
                     labelExpr="'' + datum.value",
                     labelFont=FONT, labelFontSize=24, labelColor="black", labelPadding=10,
                     titleFont=FONT, titleFontSize=27, titleFontWeight="normal",
                     titleColor="black", titlePadding=2)
    x = alt.X("t:Q", scale=xscale, axis=xaxis, title="Time" if bottom else None)
    y = alt.Y("v:Q", scale=yscale, axis=yaxis, title="Daily NonAM" if left else None)

    def series(df, color):
        return alt.Chart(df).mark_line(color=color, strokeWidth=2.4, strokeJoin="round",
                                       clip=True).encode(x=x, y=y, order="o:Q")

    red = series(TRUE_DF, C_TRUE)
    green = series(zigzag(TRAIN[k][0], TRAIN[k][1], 0), C_TRAIN)
    blue = series(zigzag(TEST[k][0], TEST[k][1], N_TRAIN), C_TEST)
    split = alt.Chart(pd.DataFrame({"t": SPLIT_T})).mark_rule(
        color=C_SPLIT, strokeWidth=4.5).encode(x=x)

    layers = [red, green, blue, split]
    legend_pos = [(10, 20, C_TRUE), (208, 20, C_TEST), (10, 47, C_TRAIN)]
    for lab, (lx, ly, col) in zip(LEGEND_LABELS, legend_pos):
        ldf = pd.DataFrame({"label": [lab]})
        layers.append(alt.Chart(ldf).mark_rule(color=col, strokeWidth=3.5).encode(
            x=alt.value(lx), x2=alt.value(lx + 26), y=alt.value(ly)))
        layers.append(alt.Chart(ldf).mark_text(
            align="left", baseline="middle", font=FONT, fontSize=24, color="black").encode(
            x=alt.value(lx + 30), y=alt.value(ly), text="label:N"))
    mdf = pd.DataFrame({"label": [PANEL_LABELS[k]]})
    layers.append(alt.Chart(mdf).mark_text(
        align="center", baseline="middle", font=FONT, fontSize=29, color="#ff0000").encode(
        x=alt.value(318), y=alt.value(208), text="label:N"))
    return alt.layer(*layers).properties(width=W, height=H)


rows = []
for r in range(4):
    rows.append(alt.hconcat(make_panel(2 * r, True, r == 3),
                            make_panel(2 * r + 1, False, r == 3), spacing=46))

chart = alt.vconcat(*rows, spacing=16).properties(
    padding={"left": 1, "top": -3, "right": 2, "bottom": 0}
).configure(
    background="white",
    view=alt.ViewConfig(stroke="black", strokeWidth=1.6),
)

chart.save("out.html", embed_options={"renderer": "svg", "actions": False})
